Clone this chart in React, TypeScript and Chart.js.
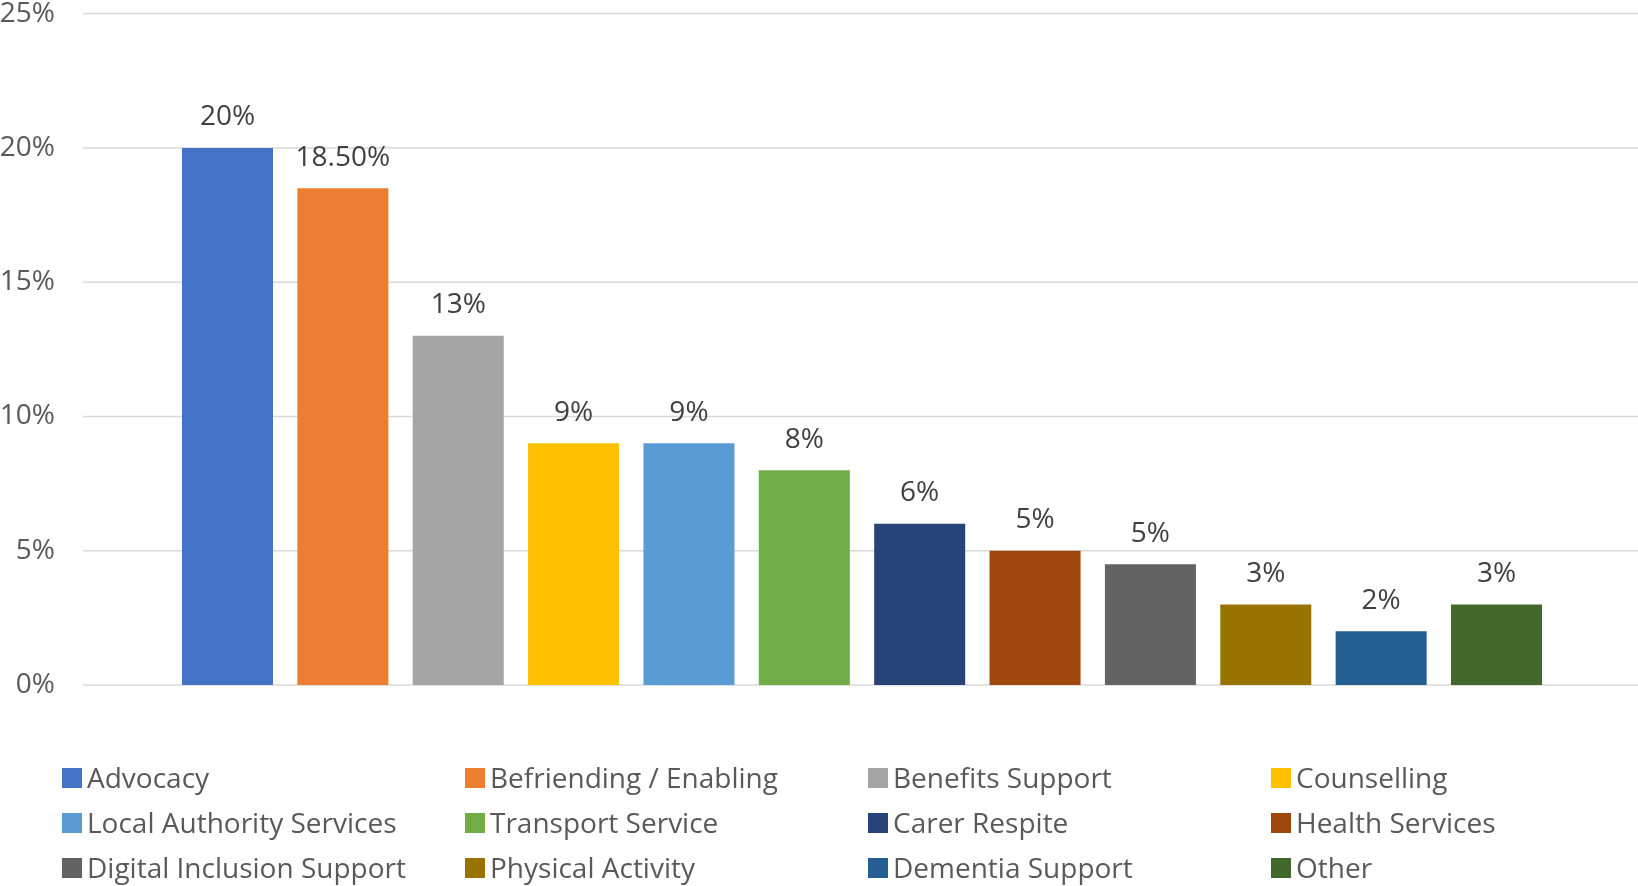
import React, { useEffect, useRef } from "react";
import { Chart, registerables } from "chart.js";

Chart.register(...registerables);

const categories = [
  "Advocacy",
  "Befriending / Enabling",
  "Benefits Support",
  "Counselling",
  "Local Authority Services",
  "Transport Service",
  "Carer Respite",
  "Health Services",
  "Digital Inclusion Support",
  "Physical Activity",
  "Dementia Support",
  "Other",
];

const values = [20, 18.5, 13, 9, 9, 8, 6, 5, 4.5, 3, 2, 3];

const valueLabels = ["20%", "18.50%", "13%", "9%", "9%", "8%", "6%", "5%", "5%", "3%", "2%", "3%"];

const colors = [
  "#4472C4",
  "#ED7D31",
  "#A5A5A5",
  "#FFC000",
  "#5B9BD5",
  "#70AD47",
  "#264478",
  "#9E480E",
  "#636363",
  "#997300",
  "#255E91",
  "#43682B",
];

const yTickValues = [0, 5, 10, 15, 20, 25];

const FONT = '"Open Sans", "Noto Sans", sans-serif';

const gridPlugin = {
  id: "fullGrid",
  beforeDatasetsDraw(chart: any) {
    const { ctx } = chart;
    const y = chart.scales.y;
    ctx.save();
    ctx.strokeStyle = "#d9d9d9";
    ctx.lineWidth = 1.5;
    y.ticks.forEach((t: any) => {
      const py = y.getPixelForValue(t.value);
      ctx.beginPath();
      ctx.moveTo(83, py);
      ctx.lineTo(chart.width, py);
      ctx.stroke();
    });
    ctx.restore();
  },
};

const labelPlugin = {
  id: "valueLabels",
  afterDatasetsDraw(chart: any) {
    const { ctx } = chart;
    const meta = chart.getDatasetMeta(0);
    ctx.save();
    ctx.fillStyle = "#404040";
    ctx.font = `28px ${FONT}`;
    ctx.textAlign = "center";
    ctx.textBaseline = "alphabetic";
    meta.data.forEach((bar: any, i: number) => {
      ctx.fillText(valueLabels[i], bar.x, bar.y - 22.5);
    });
    ctx.restore();
  },
};

const legendPlugin = {
  id: "gridLegend",
  afterDraw(chart: any) {
    const { ctx } = chart;
    const colX = [62, 465, 868, 1271];
    const rowTop = [768, 813, 858];
    ctx.save();
    ctx.font = `28px ${FONT}`;
    ctx.textAlign = "left";
    ctx.textBaseline = "alphabetic";
    categories.forEach((name, i) => {
      const c = i % 4;
      const r = Math.floor(i / 4);
      const x = colX[c];
      const y = rowTop[r];
      ctx.fillStyle = colors[i];
      ctx.fillRect(x, y, 20, 20);
      ctx.fillStyle = "#595959";
      ctx.fillText(name, x + 25, y + 20);
    });
    ctx.restore();
  },
};

export default function App() {
  const ref = useRef<HTMLCanvasElement | null>(null);

  useEffect(() => {
    if (!ref.current) return;
    const chart = new Chart(ref.current, {
      type: "bar",
      data: {
        labels: categories,
        datasets: [
          {
            data: values,
            backgroundColor: colors,
            borderWidth: 0,
            categoryPercentage: 1,
            barPercentage: 0.789,
          },
        ],
      },
      options: {
        animation: false,
        responsive: false,
        events: [],
        layout: { padding: { left: 0, right: 83.8, top: 12.7, bottom: 201 } },
        plugins: {
          legend: { display: false },
          tooltip: { enabled: false },
        },
        scales: {
          x: {
            display: false,
            offset: true,
            grid: { display: false },
          },
          y: {
            min: 0,
            max: 25,
            afterFit: (s: any) => {
              s.width = 169.8;
            },
            afterBuildTicks: (s: any) => {
              s.ticks = yTickValues.map((v) => ({ value: v }));
            },
            grid: { display: false, drawTicks: true, tickLength: 114, tickColor: "rgba(0,0,0,0)" },
            border: { display: false },
            ticks: {
              padding: 1,
              color: "#595959",
              font: { family: FONT, size: 28, lineHeight: 0.9 },
              callback: (v: any) => `${v}%`,
            },
          },
        },
      },
      plugins: [gridPlugin, labelPlugin, legendPlugin],
    });
    return () => chart.destroy();
  }, []);

  return (
    <div style={{ position: "absolute", left: 0, top: 0, width: 1638, height: 886, background: "#fff" }}>
      <canvas ref={ref} width={1638} height={886} style={{ display: "block" }} />
    </div>
  );
}
